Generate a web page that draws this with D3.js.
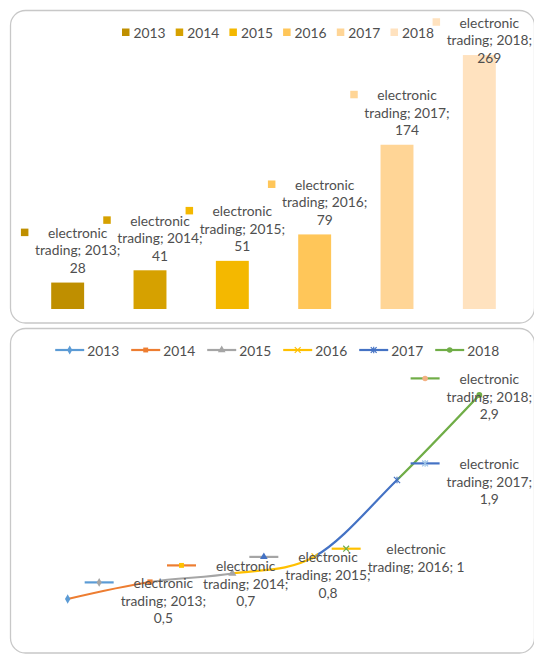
<!DOCTYPE html>
<html>
<head>
<meta charset="utf-8">
<script src="https://cdn.jsdelivr.net/npm/d3@7/dist/d3.min.js"></script>
<style>
  html, body { margin: 0; padding: 0; background: #ffffff; }
  svg { display: block; }
  text { font-family: Lato, "Liberation Sans", sans-serif; fill: #4f4f4f; }
</style>
</head>
<body>
<svg id="chart" width="534" height="655"></svg>
<script>
// ---------- data ----------
const seriesName = "electronic trading";
const years = ["2013", "2014", "2015", "2016", "2017", "2018"];
const barValues = [28, 41, 51, 79, 174, 269];
const barValueLabels = ["28", "41", "51", "79", "174", "269"];
const lineValues = [0.5, 0.7, 0.8, 1, 1.9, 2.9];
const lineValueLabels = ["0,5", "0,7", "0,8", "1", "1,9", "2,9"];

// ---------- styles ----------
const barColors = ["#BF8F00", "#D6A100", "#F4B800", "#FFC659", "#FFD596", "#FFE2BF"];
const lineColors = ["#5B9BD5", "#ED7D31", "#A5A5A5", "#FFC000", "#4472C4", "#70AD47"];
const labelMarkerColors = ["#A5A5A5", "#FFC000", "#4472C4", "#70AD47", "#9DC3E6", "#F4B183"];
const markerTypes = ["diamond", "square", "triangle", "x", "star", "circle"];
const FONT = 13.8;
const LINE_H = 17.6;

const svg = d3.select("#chart");

// panels
svg.append("rect").attr("x", 10.5).attr("y", 10.5).attr("width", 524).attr("height", 312.5)
  .attr("rx", 15).attr("fill", "#fff").attr("stroke", "#c8c8c8").attr("stroke-width", 1.3);
svg.append("rect").attr("x", 10.5).attr("y", 328.5).attr("width", 524).attr("height", 324.5)
  .attr("rx", 15).attr("fill", "#fff").attr("stroke", "#c8c8c8").attr("stroke-width", 1.3);

// text measuring helper
const measurer = svg.append("text").attr("font-size", FONT).attr("x", -1000).attr("y", -1000);
function textW(s) { measurer.text(s); return measurer.node().getComputedTextLength(); }
const refW = textW("trading; 2013;");
function wrap(str) {
  const words = str.split(" ");
  const lines = [];
  let cur = "";
  words.forEach(w => {
    const t = cur ? cur + " " + w : w;
    if (cur && textW(t) > refW * 1.17) { lines.push(cur); cur = w; }
    else cur = t;
  });
  if (cur) lines.push(cur);
  return lines;
}

// ---------- shared x scale ----------
const x = d3.scaleBand().domain(years).range([26.5, 520.5]).paddingInner(0.6).paddingOuter(0.3);
const cx = d => x(d) + x.bandwidth() / 2;

// ================= TOP: bar chart =================
const yTop = d3.scaleLinear().domain([0, 300]).range([309, 25.8]);

// legend
const topLegend = svg.append("g");
years.forEach((yr, i) => {
  const lx = 122 + i * 53.7;
  topLegend.append("rect").attr("x", lx).attr("y", 28.5).attr("width", 7.5).attr("height", 7.5)
    .attr("fill", barColors[i]);
  topLegend.append("text").attr("x", lx + 11.5).attr("y", 32.5).attr("dominant-baseline", "central")
    .attr("font-size", FONT).text(yr);
});

// bars
svg.append("g").selectAll("rect").data(years).join("rect")
  .attr("x", d => x(d)).attr("width", x.bandwidth())
  .attr("y", (d, i) => yTop(barValues[i]))
  .attr("height", (d, i) => yTop(0) - yTop(barValues[i]))
  .attr("fill", (d, i) => barColors[i]);

// bar labels
years.forEach((yr, i) => {
  const lines = wrap(`${seriesName}; ${yr}; ${barValueLabels[i]}`);
  const tx = cx(yr) + 10;
  let first = yTop(barValues[i]) - 15 - (lines.length - 1) * LINE_H;
  first = Math.max(first, 22);
  const g = svg.append("g");
  g.append("rect").attr("x", tx - 53 - 3.75).attr("y", first - 3.75).attr("width", 7.5).attr("height", 7.5)
    .attr("fill", barColors[i]);
  lines.forEach((ln, k) => {
    g.append("text").attr("x", tx).attr("y", first + k * LINE_H)
      .attr("text-anchor", "middle").attr("dominant-baseline", "central")
      .attr("font-size", FONT).text(ln);
  });
});

// ================= BOTTOM: line chart =================
const yBot = d3.scaleLinear().domain([0, 3]).range([641.5, 386.5]);
const pts = years.map((yr, i) => [cx(yr), yBot(lineValues[i])]);

function drawMarker(g, type, px, py, color, s) {
  s = s || 1;
  const tr = `translate(${px},${py})`;
  if (type === "diamond") {
    g.append("path").attr("d", d3.symbol(d3.symbolDiamond, 28 * s)()).attr("transform", tr).attr("fill", color);
  } else if (type === "square") {
    g.append("path").attr("d", d3.symbol(d3.symbolSquare, 30 * s)()).attr("transform", tr).attr("fill", color);
  } else if (type === "triangle") {
    g.append("path").attr("d", d3.symbol(d3.symbolTriangle, 32 * s)()).attr("transform", tr).attr("fill", color);
  } else if (type === "circle") {
    g.append("path").attr("d", d3.symbol(d3.symbolCircle, 30 * s)()).attr("transform", tr).attr("fill", color);
  } else if (type === "x") {
    g.append("path").attr("d", d3.symbol(d3.symbolTimes, 30 * s)()).attr("transform", tr)
      .attr("fill", "none").attr("stroke", color).attr("stroke-width", 1.2);
  } else if (type === "star") {
    g.append("path").attr("d", d3.symbol(d3.symbolTimes, 30 * s)()).attr("transform", tr)
      .attr("fill", "none").attr("stroke", color).attr("stroke-width", 1.2);
    g.append("path").attr("d", `M0,-3.3V3.3`).attr("transform", tr)
      .attr("fill", "none").attr("stroke", color).attr("stroke-width", 1.2);
  }
}

// legend
const botLegend = svg.append("g");
years.forEach((yr, i) => {
  const lx = 55.2 + i * 76;
  botLegend.append("line").attr("x1", lx).attr("x2", lx + 29).attr("y1", 350).attr("y2", 350)
    .attr("stroke", lineColors[i]).attr("stroke-width", 2.2);
  drawMarker(botLegend, markerTypes[i], lx + 14.5, 350, lineColors[i], 0.8);
  botLegend.append("text").attr("x", lx + 32).attr("y", 350.5).attr("dominant-baseline", "central")
    .attr("font-size", FONT).text(yr);
});

// smoothed line, segment colours by point
const lineGen = d3.line().curve(d3.curveCatmullRom.alpha(0));
const defs = svg.append("defs");
for (let i = 1; i < pts.length; i++) {
  defs.append("clipPath").attr("id", "seg" + i).append("rect")
    .attr("x", pts[i - 1][0]).attr("width", pts[i][0] - pts[i - 1][0])
    .attr("y", 330).attr("height", 320);
  svg.append("path").attr("d", lineGen(pts)).attr("fill", "none")
    .attr("stroke", lineColors[i]).attr("stroke-width", 2.2)
    .attr("clip-path", `url(#seg${i})`);
}
// point markers
const ptG = svg.append("g");
pts.forEach((p, i) => drawMarker(ptG, markerTypes[i], p[0], p[1], lineColors[i], 0.9));

// line labels
years.forEach((yr, i) => {
  const lines = wrap(`${seriesName}; ${yr}; ${lineValueLabels[i]}`);
  const W = d3.max(lines, l => textW(l));
  const [px, py] = pts[i];
  let textLeft = px + 53;
  if (textLeft + W > 532) textLeft = 532 - W;
  const keyLeft = textLeft - 36;
  const first = py + 1 - (lines.length - 1) * LINE_H / 2;
  const g = svg.append("g");
  g.append("line").attr("x1", keyLeft).attr("x2", keyLeft + 29).attr("y1", first).attr("y2", first)
    .attr("stroke", lineColors[i]).attr("stroke-width", 2.2);
  drawMarker(g, markerTypes[i], keyLeft + 14.5, first, labelMarkerColors[i], 0.8);
  lines.forEach((ln, k) => {
    g.append("text").attr("x", textLeft + W / 2).attr("y", first + k * LINE_H)
      .attr("text-anchor", "middle").attr("dominant-baseline", "central")
      .attr("font-size", FONT).text(ln);
  });
});
measurer.remove();
</script>
</body>
</html>
